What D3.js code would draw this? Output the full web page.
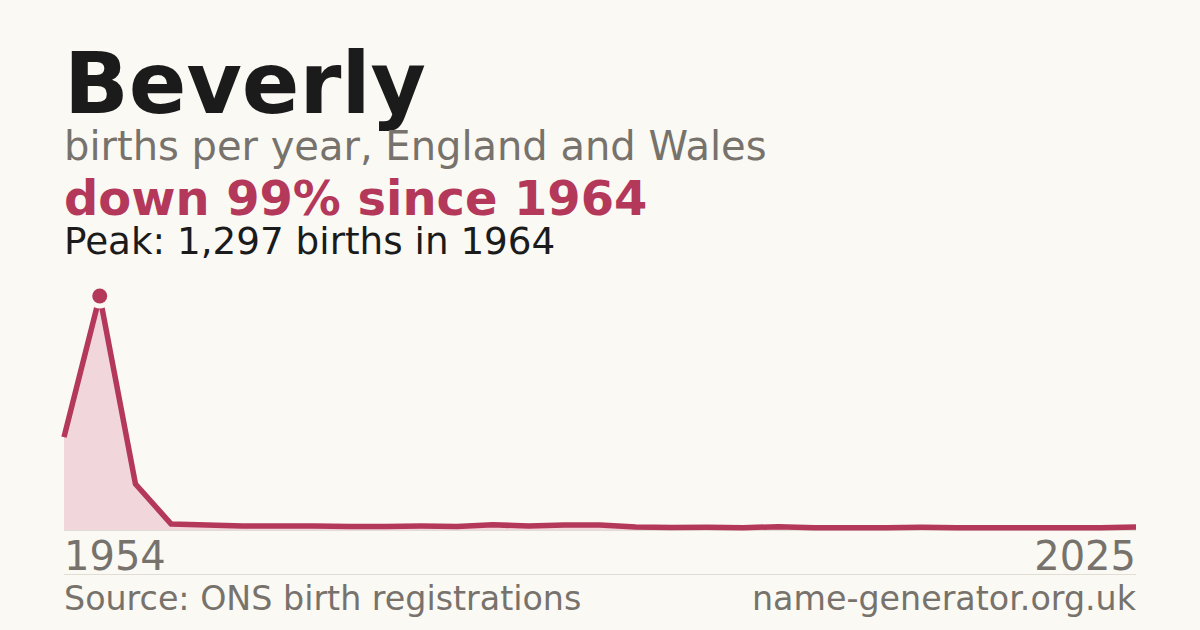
<!DOCTYPE html>
<html>
<head>
<meta charset="utf-8">
<script src="https://cdn.jsdelivr.net/npm/d3@7"></script>
<style>
  html, body { margin: 0; padding: 0; background: #faf9f4; }
  svg { display: block; font-family: "DejaVu Sans", sans-serif; }
</style>
</head>
<body>
<svg id="chart" width="1200" height="630"></svg>
<script>
// births per year for the name
const years = [1954, 1964, 1974, 1984,
  1999, 2000, 2001, 2002, 2003, 2004, 2005, 2006, 2007, 2008, 2009,
  2010, 2011, 2012, 2013, 2014, 2015, 2016, 2017, 2018, 2019, 2020,
  2021, 2022, 2023, 2024, 2025];
const births = [515, 1297, 255, 33,
  28, 22, 22, 22, 20, 20, 22, 20, 29, 22, 28,
  28, 17, 14, 15, 13, 18, 13, 13, 13, 15, 13,
  13, 13, 13, 13, 17];
const axisLabels = ["1954", "2025"];

const RED = "#b3385a";
const GREY = "#77726b";
const BG = "#faf9f4";

const W = 1200, H = 630;
const plotLeft = 64, plotRight = 1136;
const plotBase = 530, plotTop = 296;

const svg = d3.select("#chart");
svg.append("rect").attr("width", W).attr("height", H).attr("fill", BG);

const data = years.map((yr, i) => ({ year: yr, value: births[i] }));
const peak = d3.greatest(data, d => d.value);

const x = d3.scalePoint().domain(years).range([plotLeft, plotRight]);
const y = d3.scaleLinear().domain([0, peak.value]).range([plotBase, plotTop]);

// header text
svg.append("text")
    .attr("x", plotLeft).attr("y", 113)
    .attr("font-size", 85).attr("font-weight", "bold")
    .attr("fill", "#1b1b1b")
    .text("Beverly");

svg.append("text")
    .attr("x", plotLeft).attr("y", 160)
    .attr("font-size", 40)
    .attr("fill", GREY)
    .text("births per year, England and Wales");

const last = data[data.length - 1];
const pct = Math.round((1 - last.value / peak.value) * 100);
svg.append("text")
    .attr("x", plotLeft).attr("y", 215)
    .attr("font-size", 47.9).attr("font-weight", "bold")
    .attr("fill", RED)
    .text(`down ${pct}% since ${peak.year}`);

svg.append("text")
    .attr("x", plotLeft).attr("y", 254)
    .attr("font-size", 37.3)
    .attr("fill", "#1b1b1b")
    .text(`Peak: ${d3.format(",")(peak.value)} births in ${peak.year}`);

// baseline
svg.append("line")
    .attr("x1", plotLeft).attr("x2", plotRight)
    .attr("y1", plotBase + 0.5).attr("y2", plotBase + 0.5)
    .attr("stroke", "#e2ddd4").attr("stroke-width", 1);

const area = d3.area()
    .x(d => x(d.year))
    .y0(plotBase)
    .y1(d => y(d.value));

const line = d3.line()
    .x(d => x(d.year))
    .y(d => y(d.value));

svg.append("path")
    .datum(data)
    .attr("d", area)
    .attr("fill", "#f1d6dc");

svg.append("path")
    .datum(data)
    .attr("d", line)
    .attr("fill", "none")
    .attr("stroke", RED)
    .attr("stroke-width", 5.5)
    .attr("stroke-linejoin", "round");

// peak marker with a halo
svg.append("circle")
    .attr("cx", x(peak.year)).attr("cy", y(peak.value))
    .attr("r", 7.5)
    .attr("fill", RED)
    .attr("stroke", BG)
    .attr("stroke-width", 10)
    .attr("paint-order", "stroke");

// x labels
svg.append("text")
    .attr("x", plotLeft).attr("y", 570)
    .attr("font-size", 40)
    .attr("fill", GREY)
    .text(axisLabels[0]);

svg.append("text")
    .attr("x", plotRight).attr("y", 570)
    .attr("text-anchor", "end")
    .attr("font-size", 40)
    .attr("fill", GREY)
    .text(axisLabels[1]);

// footer
svg.append("line")
    .attr("x1", plotLeft).attr("x2", plotRight)
    .attr("y1", 574.5).attr("y2", 574.5)
    .attr("stroke", "#e2ddd4").attr("stroke-width", 1);

svg.append("text")
    .attr("x", plotLeft).attr("y", 610)
    .attr("font-size", 33.3)
    .attr("fill", GREY)
    .text("Source: ONS birth registrations");

svg.append("text")
    .attr("x", plotRight).attr("y", 610)
    .attr("text-anchor", "end")
    .attr("font-size", 33.3)
    .attr("fill", GREY)
    .text("name-generator.org.uk");
</script>
</body>
</html>
